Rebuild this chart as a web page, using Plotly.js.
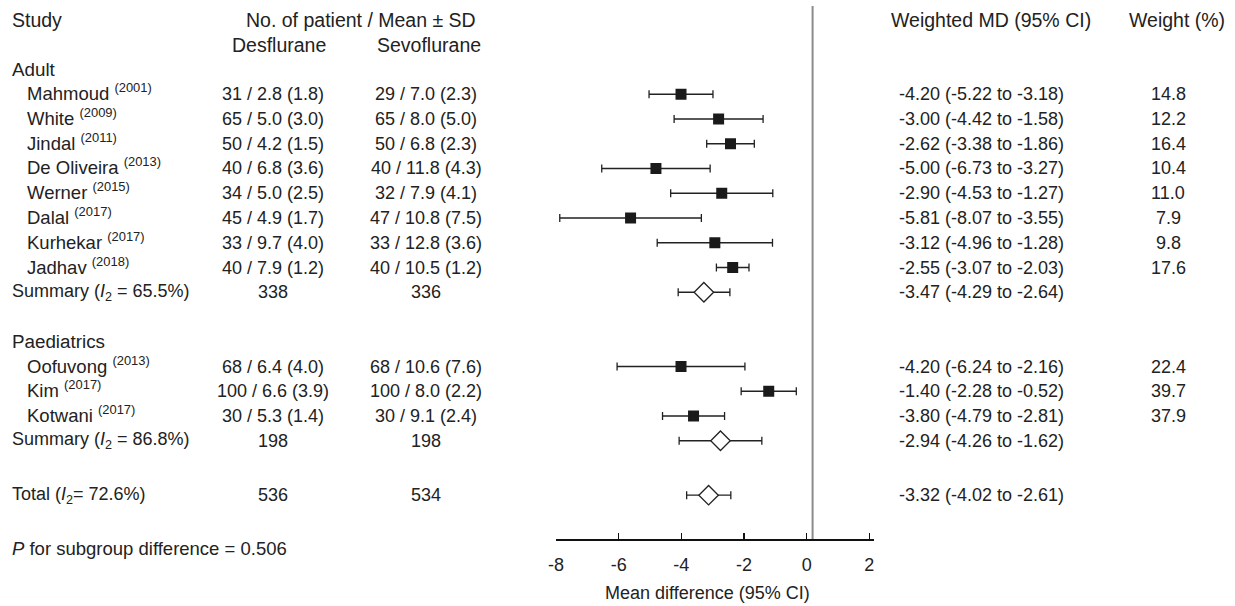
<!DOCTYPE html>
<html>
<head>
<meta charset="utf-8">
<script src="https://cdn.plot.ly/plotly-3.0.1.min.js"></script>
<style>html,body{margin:0;padding:0;background:#fff;}#chart{width:1235px;height:606px;}</style>
</head>
<body>
<div id="chart"></div>
<script>
// ---------------- DATA ----------------
const studyNames  = ["Mahmoud","White","Jindal","De Oliveira","Werner","Dalal","Kurhekar","Jadhav","Oofuvong","Kim","Kotwani"];
const studyYears  = ["2001","2009","2011","2013","2015","2017","2017","2018","2013","2017","2017"];
const studyGroup  = ["Adult","Adult","Adult","Adult","Adult","Adult","Adult","Adult","Paediatrics","Paediatrics","Paediatrics"];
const desN    = [31,65,50,40,34,45,33,40,68,100,30];
const desMean = [2.8,5.0,4.2,6.8,5.0,4.9,9.7,7.9,6.4,6.6,5.3];
const desSD   = [1.8,3.0,1.5,3.6,2.5,1.7,4.0,1.2,4.0,3.9,1.4];
const sevN    = [29,65,50,40,32,47,33,40,68,100,30];
const sevMean = [7.0,8.0,6.8,11.8,7.9,10.8,12.8,10.5,10.6,8.0,9.1];
const sevSD   = [2.3,5.0,2.3,4.3,4.1,7.5,3.6,1.2,7.6,2.2,2.4];
const studyMD = [-4.20,-3.00,-2.62,-5.00,-2.90,-5.81,-3.12,-2.55,-4.20,-1.40,-3.80];
const studyLo = [-5.22,-4.42,-3.38,-6.73,-4.53,-8.07,-4.96,-3.07,-6.24,-2.28,-4.79];
const studyHi = [-3.18,-1.58,-1.86,-3.27,-1.27,-3.55,-1.28,-2.03,-2.16,-0.52,-2.81];
const studyWeight = [14.8,12.2,16.4,10.4,11.0,7.9,9.8,17.6,22.4,39.7,37.9];

const groupNames  = ["Adult","Paediatrics"];
const groupI2     = [65.5,86.8];
const groupDesN   = [338,198];
const groupSevN   = [336,198];
const groupMD     = [-3.47,-2.94];
const groupLo     = [-4.29,-4.26];
const groupHi     = [-2.64,-1.62];

const totalI2 = 72.6, totalDesN = 536, totalSevN = 534;
const totalMD = -3.32, totalLo = -4.02, totalHi = -2.61;
const pSubgroup = 0.506;

const tickValues = [-8,-6,-4,-2,0,2];
const tickLabels = ["-8","-6","-4","-2","0","2"];

// ---------------- LAYOUT CONSTANTS ----------------
const W = 1235, H = 606;
const FONT = "Liberation Sans, Arial, Helvetica, sans-serif";
const FS = 18, FS_HDR = 19.5, TXT = "#222";
const ROW_Y0 = 20, ROW_H = 24.75;
const AXIS_Y = 539;
const AXIS_SHIFT = -0.19;          // printed tick labels sit slightly left of the null line
const X_RANGE = [-8.19, 1.96];
const X_PX = [556, 874];
const COL = {study:10, name:25, des:273, sev:426, md:897, wt:1168,
             hdrMid:361, hdrDes:279, hdrSev:429, hdrMd:991, hdrWt:1177};

const rowY = r => ROW_Y0 + r*ROW_H;
const px = x => x / W;
const py = y => 1 - y / H;
const fmt2 = v => v.toFixed(2);
const fmt1 = v => v.toFixed(1);

const ann = [];
function txt(x, y, text, anchor, extra, size) {
  ann.push(Object.assign({xref:'paper', yref:'paper', x:px(x), y:py(y), text:text,
    showarrow:false, xanchor:anchor||'left', yanchor:'middle',
    font:{family:FONT, size:size||FS, color:TXT}}, extra||{}));
}

// headers
txt(COL.study, rowY(0), "Study", 'left', null, FS_HDR);
txt(COL.hdrMid, rowY(0), "No. of patient / Mean ± SD", 'center', null, FS_HDR);
txt(COL.hdrMd, rowY(0), "Weighted MD (95% CI)", 'center', null, FS_HDR);
txt(COL.hdrWt, rowY(0), "Weight (%)", 'center', null, FS_HDR);
txt(COL.hdrDes, rowY(1), "Desflurane", 'center', null, FS_HDR);
txt(COL.hdrSev, rowY(1), "Sevoflurane", 'center', null, FS_HDR);

// build rows
const markY = [], markX = [], markE = [], markEm = [];
const sumY = [], sumX = [], sumE = [], sumEm = [];
let r = 2;
groupNames.forEach((g, gi) => {
  txt(COL.study, rowY(r), g, 'left', null, 18.8);
  r += 1;
  studyNames.forEach((n, i) => {
    if (studyGroup[i] !== g) return;
    const y = rowY(r);
    txt(COL.name, y, n + " <sup>(" + studyYears[i] + ")</sup>", 'left', {yshift:2}, 18.5);
    txt(COL.des, y, desN[i] + " / " + fmt1(desMean[i]) + " (" + fmt1(desSD[i]) + ")", 'center');
    txt(COL.sev, y, sevN[i] + " / " + fmt1(sevMean[i]) + " (" + fmt1(sevSD[i]) + ")", 'center');
    txt(COL.md, y, fmt2(studyMD[i]) + " (" + fmt2(studyLo[i]) + " to " + fmt2(studyHi[i]) + ")");
    txt(COL.wt, y, fmt1(studyWeight[i]), 'center');
    markY.push(y); markX.push(studyMD[i]);
    markE.push(studyHi[i]-studyMD[i]); markEm.push(studyMD[i]-studyLo[i]);
    r += 1;
  });
  const y = rowY(r);
  txt(COL.study, y, "Summary (<i>I</i><sub>2</sub> = " + fmt1(groupI2[gi]) + "%)");
  txt(COL.des, y, String(groupDesN[gi]), 'center');
  txt(COL.sev, y, String(groupSevN[gi]), 'center');
  txt(COL.md, y, fmt2(groupMD[gi]) + " (" + fmt2(groupLo[gi]) + " to " + fmt2(groupHi[gi]) + ")");
  sumY.push(y); sumX.push(groupMD[gi]);
  sumE.push(groupHi[gi]-groupMD[gi]); sumEm.push(groupMD[gi]-groupLo[gi]);
  r += 2;
});
r += 0.2;
{
  const y = rowY(r);
  txt(COL.study, y, "Total (<i>I</i><sub>2</sub>= " + fmt1(totalI2) + "%)");
  txt(COL.des, y, String(totalDesN), 'center');
  txt(COL.sev, y, String(totalSevN), 'center');
  txt(COL.md, y, fmt2(totalMD) + " (" + fmt2(totalLo) + " to " + fmt2(totalHi) + ")");
  sumY.push(y); sumX.push(totalMD);
  sumE.push(totalHi-totalMD); sumEm.push(totalMD-totalLo);
}
txt(COL.study, 548, "<i>P</i> for subgroup difference = " + pSubgroup.toFixed(3), 'left', null, 18.5);
txt(707, 593, "Mean difference (95% CI)", 'center');

const traces = [
  {type:'scatter', mode:'markers', x:markX, y:markY, cliponaxis:false, hoverinfo:'skip',
   marker:{symbol:'square', size:11, color:'#1a1a1a'},
   error_x:{type:'data', symmetric:false, array:markE, arrayminus:markEm, color:'#222', thickness:1.3, width:4}},
  {type:'scatter', mode:'markers', x:sumX, y:sumY, cliponaxis:false, hoverinfo:'skip',
   marker:{symbol:'diamond', size:15, color:'#fff', line:{color:'#222', width:1.3}},
   error_x:{type:'data', symmetric:false, array:sumE, arrayminus:sumEm, color:'#222', thickness:1.3, width:4}}
];

const layout = {
  width:W, height:H, margin:{l:0,r:0,t:0,b:0}, showlegend:false,
  paper_bgcolor:'#fff', plot_bgcolor:'rgba(0,0,0,0)',
  xaxis:{domain:[px(X_PX[0]), px(X_PX[1])], range:X_RANGE, showgrid:false, zeroline:false,
         showline:true, linecolor:'#111', linewidth:2, ticks:'inside', ticklen:6, tickwidth:1.5, tickcolor:'#111',
         tickvals:tickValues.map(v => v + AXIS_SHIFT), ticktext:tickLabels, ticklabelstandoff:8,
         tickfont:{family:FONT, size:FS, color:TXT}, fixedrange:true},
  yaxis:{domain:[1 - AXIS_Y/H, 1], range:[AXIS_Y, 0], visible:false, fixedrange:true},
  shapes:[{type:'line', xref:'x', yref:'y', x0:0, x1:0, y0:6, y1:AXIS_Y,
           line:{color:'#8c8c8c', width:2}, layer:'below'}],
  annotations:ann
};
Plotly.newPlot('chart', traces, layout, {displayModeBar:false, staticPlot:true});
</script>
</body>
</html>
